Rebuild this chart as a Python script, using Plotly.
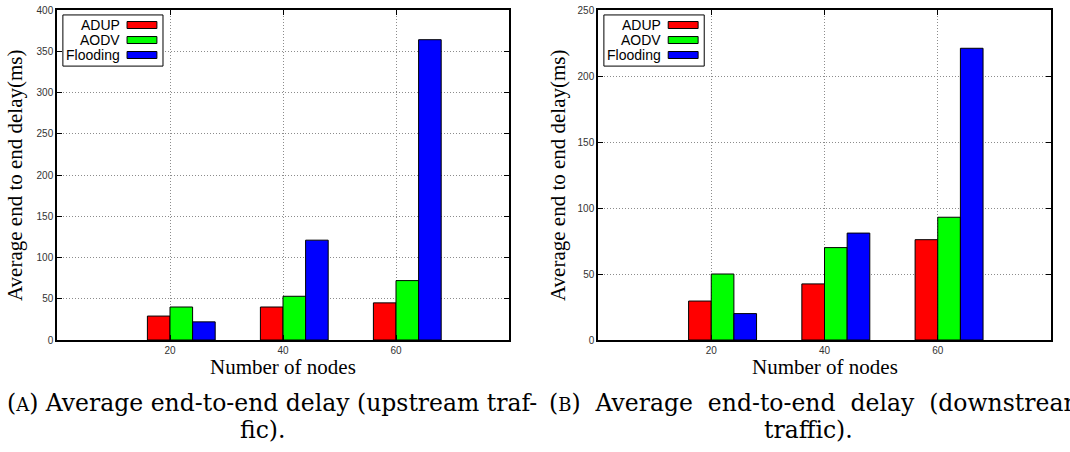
"""Average end-to-end delay, upstream vs downstream traffic"""

import plotly.graph_objects as go
from plotly.subplots import make_subplots

# data
nodes = [20, 40, 60]
protocols = ["ADUP", "AODV", "Flooding"]
colors = ["#ff0000", "#00ff00", "#0000ff"]

upstream_adup = [29, 40, 45]
upstream_aodv = [40, 53, 72]
upstream_flooding = [22, 121, 364]

downstream_adup = [29.5, 42.5, 76]
downstream_aodv = [50, 70, 93]
downstream_flooding = [20, 81, 221]

upstream = [upstream_adup, upstream_aodv, upstream_flooding]
downstream = [downstream_adup, downstream_aodv, downstream_flooding]

W, H = 1070, 452
SERIF = "Liberation Serif"
CAPTION_SERIF = "DejaVu Serif"
SANS = "Liberation Sans"


def px(x):
    return x / W


def py(y):
    return 1 - y / H


fig = make_subplots(rows=1, cols=2)

bar_w = 4
offsets = [-4, 0, 4]
for col, panel in enumerate([upstream, downstream], start=1):
    for i, vals in enumerate(panel):
        fig.add_trace(
            go.Bar(x=nodes, y=vals, name=protocols[i], width=bar_w, offset=offsets[i],
                   marker=dict(color=colors[i], line=dict(color="black", width=1)),
                   showlegend=False),
            row=1, col=col,
        )

# plot area positions in pixels
left_px = [(57, 509), (598, 1051)]
top_px, bottom_px = 10, 340

axis_common = dict(showline=True, linecolor="black", linewidth=1.5, mirror="ticks",
                   ticks="inside", ticklen=5, tickcolor="black", automargin=False,
                   ticklabeloverflow="allow",
                   showgrid=True, gridcolor="#8c8c8c", griddash="1px,2px", gridwidth=1,
                   zeroline=False, tickfont=dict(family=SANS, size=10, color="#333333"))

for col, ((x0, x1), ymax) in enumerate(zip(left_px, [400, 250]), start=1):
    fig.update_xaxes(axis_common, domain=[px(x0), px(x1)], range=[0, 80],
                     tickvals=nodes, ticktext=[str(n) for n in nodes], row=1, col=col)
    fig.update_yaxes(axis_common, domain=[py(bottom_px), py(top_px)], range=[0, ymax],
                     dtick=50, row=1, col=col)

shapes = []
annotations = []

# axis titles
title_font = dict(family=SERIF, size=21, color="black")
for (x0, x1), ytitle_x in zip(left_px, [15, 558]):
    annotations.append(dict(xref="paper", yref="paper", x=px((x0 + x1) / 2), y=py(367),
                            text="Number of nodes", showarrow=False, xanchor="center",
                            yanchor="middle", font=title_font))
    annotations.append(dict(xref="paper", yref="paper", x=px(ytitle_x),
                            y=py((top_px + bottom_px) / 2),
                            text="Average end to end delay(ms)", showarrow=False, textangle=-90,
                            xanchor="center", yanchor="middle", font=title_font))

# gnuplot-style key: text right aligned, swatch on the right
row_y = [0.9545, 0.909, 0.8636]
for xr, yr in [("x domain", "y domain"), ("x2 domain", "y2 domain")]:
    shapes.append(dict(type="rect", xref=xr, yref=yr, x0=0.013, x1=0.2345, y0=0.83, y1=0.985,
                       line=dict(color="black", width=1), fillcolor="white", layer="above"))
    for i, name in enumerate(protocols):
        annotations.append(dict(xref=xr, yref=yr, x=0.144, y=row_y[i], text=name, showarrow=False,
                                xanchor="right", yanchor="middle",
                                font=dict(family=SANS, size=14, color="black")))
        shapes.append(dict(type="rect", xref=xr, yref=yr, x0=0.155, x1=0.221,
                           y0=row_y[i] - 0.0106, y1=row_y[i] + 0.0106,
                           line=dict(color="black", width=1), fillcolor=colors[i], layer="above"))

# sub-figure captions (the right one runs off the page edge, as in the source)
cap_font = dict(family=CAPTION_SERIF, size=23.5, color="black")
sc = "<span style='font-size:18px'>%s</span>"
nb = "\u00a0"
captions = [
    (5, 403, "left", "(" + sc % "A" + ") Average end-to-end delay (upstream traf-"),
    (262, 430, "center", "fic)."),
    (547, 403, "left", "(" + sc % "B" + ")" + nb * 2 + "Average" + nb * 2 + "end-to-end" + nb * 2
     + "delay" + nb * 2 + "(downstream"),
    (808, 430, "center", "traffic)."),
]
for x, y, anchor, text in captions:
    annotations.append(dict(xref="paper", yref="paper", x=px(x), y=py(y), text=text,
                            showarrow=False, xanchor=anchor, yanchor="middle", font=cap_font))

fig.update_layout(
    width=W, height=H,
    margin=dict(l=0, r=0, t=0, b=0),
    paper_bgcolor="white", plot_bgcolor="white",
    barmode="overlay", showlegend=False,
    shapes=shapes, annotations=annotations,
)

# drop the default 8px page margin so the figure fills the window
fig.write_html("out.html", config={"displayModeBar": False},
               post_script="document.body.style.margin = '0';")
